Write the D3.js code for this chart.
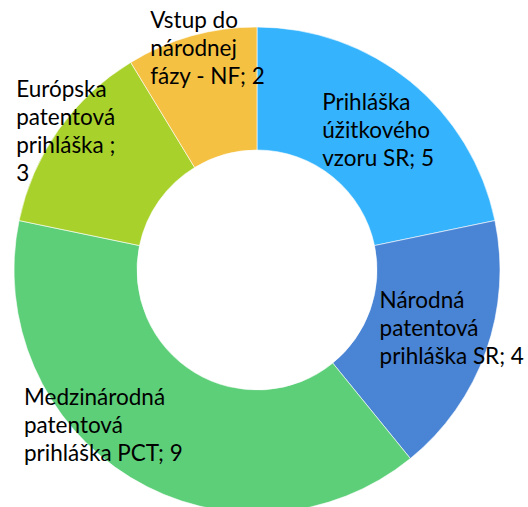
<!DOCTYPE html>
<html>
<head>
<meta charset="utf-8">
<script src="https://cdn.jsdelivr.net/npm/d3@7"></script>
<style>
  html, body { margin: 0; padding: 0; background: #fff; }
  #chart { width: 528px; height: 507px; }
  text { font-family: Lato, "Open Sans", sans-serif; fill: #000; }
</style>
</head>
<body>
<div id="chart"></div>
<script>
(function() {
  "use strict";

  // data, clockwise from 12 o'clock
  var categories = [
    "Prihláška úžitkového vzoru SR",
    "Národná patentová prihláška SR",
    "Medzinárodná patentová prihláška PCT",
    "Európska patentová prihláška ",
    "Vstup do národnej fázy - NF"
  ];
  var counts = [5, 4, 9, 3, 2];
  var colors = ["#35b4fd", "#4a84d4", "#5dcf79", "#a9d12b", "#f5c143"];

  // wrapped label lines, as the reference breaks them
  var labelLines = [
    ["Prihláška", "úžitkového", "vzoru SR; 5"],
    ["Národná", "patentová", "prihláška SR; 4"],
    ["Medzinárodná", "patentová", "prihláška PCT; 9"],
    ["Európska", "patentová", "prihláška ;", "3"],
    ["Vstup do", "národnej", "fázy - NF; 2"]
  ];
  // nudge from label centroid to text block (left x, first baseline)
  var labelNudge = [[-49, -20], [-48, -23], [-139, -20], [-93, -69], [-58, -68]];

  var width = 528, height = 507;
  var cx = 257, cy = 270;
  var outerR = 243, innerR = 120;
  var lineHeight = 28;

  var dataset = categories.map(function(c, i) {
    return { label: c, count: counts[i], color: colors[i], lines: labelLines[i], nudge: labelNudge[i] };
  });

  var svg = d3.select("#chart").append("svg")
    .attr("width", width)
    .attr("height", height);

  var g = svg.append("g")
    .attr("transform", "translate(" + cx + "," + cy + ")");

  var pie = d3.pie()
    .value(function(d) { return d.count; })
    .sort(null)
    .sortValues(null);

  var arc = d3.arc().innerRadius(innerR).outerRadius(outerR);
  var labelArc = d3.arc().innerRadius(181).outerRadius(181);

  var arcs = pie(dataset);

  g.selectAll("path")
    .data(arcs)
    .enter()
    .append("path")
    .attr("d", arc)
    .attr("fill", function(d) { return d.data.color; })
    .attr("stroke", "#fff")
    .attr("stroke-width", 0.6);

  var texts = g.append("g").attr("class", "labels")
    .selectAll("text")
    .data(arcs)
    .enter()
    .append("text")
    .attr("font-size", 22.5)
    .attr("transform", function(d) {
      var p = labelArc.centroid(d);
      return "translate(" + (p[0] + d.data.nudge[0]) + "," + (p[1] + d.data.nudge[1]) + ")";
    });

  texts.selectAll("tspan")
    .data(function(d) { return d.data.lines; })
    .enter()
    .append("tspan")
    .attr("x", 0)
    .attr("y", function(d, i) { return i * lineHeight; })
    .text(function(d) { return d; });
})();
</script>
</body>
</html>
